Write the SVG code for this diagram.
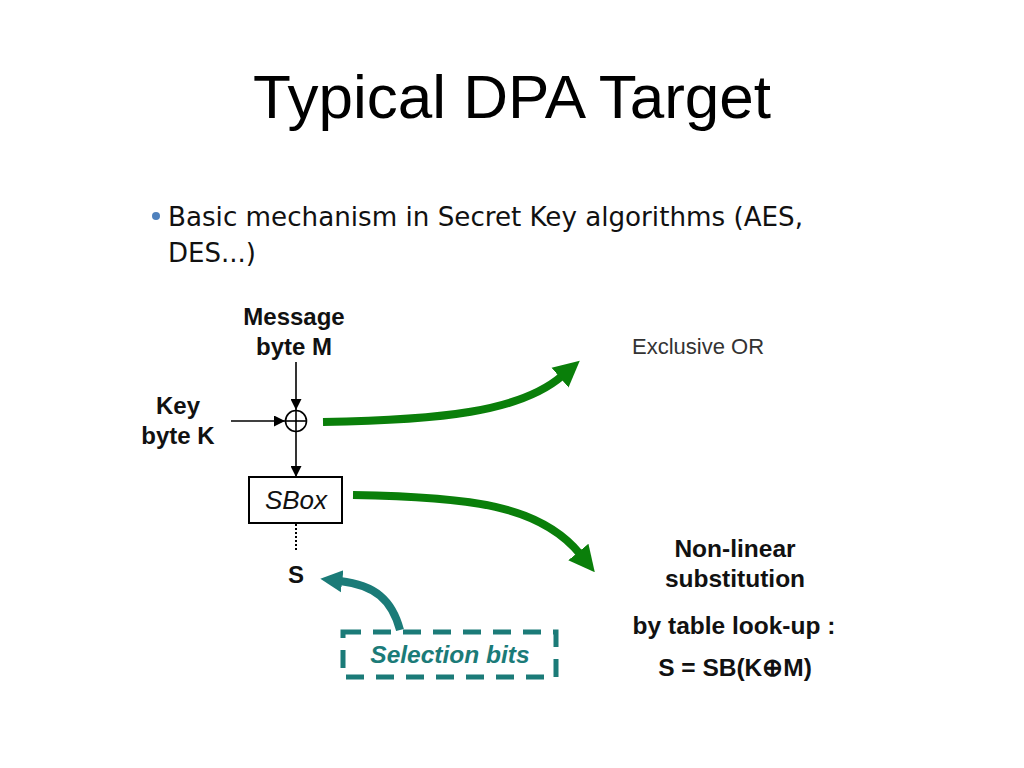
<svg xmlns="http://www.w3.org/2000/svg" width="1024" height="768" viewBox="0 0 1024 768">
<style>
.lbl{font-family:"Liberation Sans",Arial,sans-serif;font-weight:bold;font-size:24px;fill:#111;text-anchor:middle}
.rlbl{font-family:"Liberation Sans",Arial,sans-serif;font-weight:bold;font-size:24.5px;fill:#111;text-anchor:middle}
.thin{stroke:#000;stroke-width:1.6;fill:none}
.green{stroke:#0a7f0a;stroke-width:8;fill:none}
.teal{stroke:#1b7b78;fill:none}
</style>
<defs>
<marker id="ah" viewBox="0 0 10 10" refX="10" refY="5" markerWidth="12" markerHeight="11" markerUnits="userSpaceOnUse" orient="auto"><path d="M0,0 L10,5 L0,10 z" fill="#000"/></marker>
<marker id="gh" viewBox="0 0 10 10" refX="1" refY="5" markerWidth="26" markerHeight="28" markerUnits="userSpaceOnUse" orient="auto"><path d="M0,0 L10,5 L0,10 z" fill="#0a7f0a"/></marker>
<marker id="th" viewBox="0 0 10 10" refX="1" refY="5" markerWidth="22" markerHeight="26" markerUnits="userSpaceOnUse" orient="auto"><path d="M0,0 L10,5 L0,10 z" fill="#1b7b78"/></marker>
</defs>
<rect width="1024" height="768" fill="#fff"/>
<text x="512" y="118" font-family="Liberation Sans,Arial,sans-serif" font-size="62" text-anchor="middle" fill="#000">Typical DPA Target</text>
<circle cx="156" cy="216" r="4" fill="#4f81bd"/>
<text x="168" y="226" font-family="DejaVu Sans Condensed,DejaVu Sans,sans-serif" font-size="27" fill="#111" textLength="635" lengthAdjust="spacingAndGlyphs">Basic mechanism in Secret Key algorithms (AES,</text>
<text x="168" y="262" font-family="DejaVu Sans Condensed,DejaVu Sans,sans-serif" font-size="27" fill="#111" textLength="88" lengthAdjust="spacingAndGlyphs">DES...)</text>

<g id="connectors">
<line class="thin" x1="296" y1="362" x2="296" y2="410" marker-end="url(#ah)"/>
<line class="thin" x1="231" y1="421" x2="285" y2="421" marker-end="url(#ah)"/>
<line class="thin" x1="296" y1="432" x2="296" y2="477" marker-end="url(#ah)"/>
<line x1="296" y1="524" x2="296" y2="550" stroke="#000" stroke-width="2" stroke-dasharray="2,2"/>
<path class="green" d="M323,422 C440,420 520,412 562,376" marker-end="url(#gh)"/>
<path class="green" d="M353,495 C470,497 540,505 580,554" marker-end="url(#gh)"/>
<path class="teal" stroke-width="8" d="M400,630 C392,600 375,585 340,581" marker-end="url(#th)"/>
</g>

<g id="message">
<text class="lbl" x="294" y="325">Message</text>
<text class="lbl" x="294" y="355">byte M</text>
</g>
<g id="key">
<text class="lbl" x="178" y="414">Key</text>
<text class="lbl" x="178" y="444">byte K</text>
</g>
<g id="xor">
<circle cx="296" cy="421" r="10.5" fill="#fff" stroke="#000" stroke-width="1.6"/>
<line x1="285.5" y1="421" x2="306.5" y2="421" stroke="#000" stroke-width="1.6"/>
<line x1="296" y1="410.5" x2="296" y2="431.5" stroke="#000" stroke-width="1.6"/>
</g>
<g id="sbox">
<rect x="249" y="477" width="93" height="46" fill="#fff" stroke="#000" stroke-width="2"/>
<text x="296" y="509" font-family="Liberation Sans,Arial,sans-serif" font-style="italic" font-size="26" text-anchor="middle" fill="#111">SBox</text>
</g>
<g id="s">
<text class="lbl" x="296" y="583">S</text>
</g>
<g id="xor-label">
<text x="632" y="354" font-family="Liberation Sans,Arial,sans-serif" font-size="22" fill="#333">Exclusive OR</text>
</g>
<g id="subst-label">
<text class="rlbl" x="735" y="557">Non-linear</text>
<text class="rlbl" x="735" y="587">substitution</text>
<text class="rlbl" x="734" y="634">by table look-up :</text>
<text class="rlbl" x="735" y="676">S = SB(K⊕M)</text>
</g>
<g id="selection">
<rect x="343" y="632" width="213" height="45" fill="none" stroke="#1b7b78" stroke-width="5" stroke-dasharray="18,12"/>
<text x="450" y="663" font-family="Liberation Sans,Arial,sans-serif" font-weight="bold" font-style="italic" font-size="24.5" text-anchor="middle" fill="#1b7b78">Selection bits</text>
</g>
</svg>
